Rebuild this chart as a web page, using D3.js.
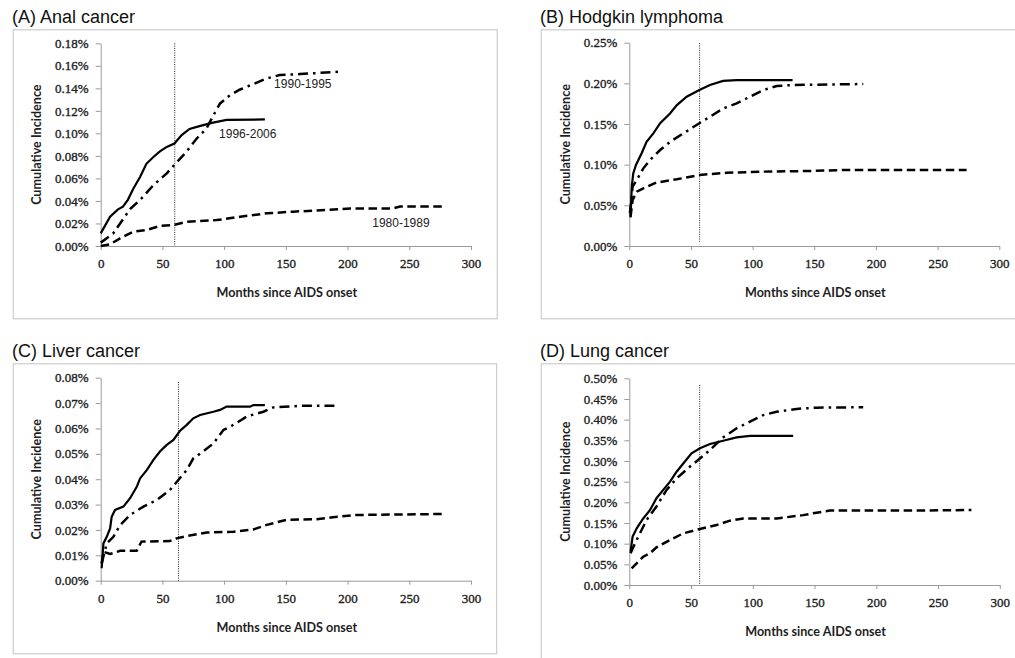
<!DOCTYPE html>
<html><head><meta charset="utf-8">
<script src="https://cdn.jsdelivr.net/npm/d3@7"></script>
<style>body{margin:0;background:#fff}svg{display:block}</style>
</head><body><svg id="c" width="1015" height="658"></svg>
<script>
// ---------- DATA ----------
const panelTitles = ["(A) Anal cancer", "(B) Hodgkin lymphoma", "(C) Liver cancer", "(D) Lung cancer"];
const xTicks = [0, 50, 100, 150, 200, 250, 300];
const yTicksA = [0, 0.02, 0.04, 0.06, 0.08, 0.10, 0.12, 0.14, 0.16, 0.18];
const yTicksB = [0, 0.05, 0.10, 0.15, 0.20, 0.25];
const yTicksC = [0, 0.01, 0.02, 0.03, 0.04, 0.05, 0.06, 0.07, 0.08];
const yTicksD = [0, 0.05, 0.10, 0.15, 0.20, 0.25, 0.30, 0.35, 0.40, 0.45, 0.50];
const seriesNames = ["1996-2006", "1990-1995", "1980-1989"];
const vlineMonths = [60, 57, 63, 57];
const xTitle = "Months since AIDS onset";
const yTitle = "Cumulative Incidence";

// Anal cancer (A)
const anal1996 = [[0,0.0112],[7.6,0.026],[14,0.0325],[18,0.035],[22,0.041],[26.5,0.051],[32,0.0615],[37,0.073],[42.7,0.079],[48,0.084],[53.5,0.088],[59.7,0.091],[65.6,0.0985],[72,0.104],[80,0.1065],[91,0.1095],[102,0.112],[133,0.1124]];
const anal1990 = [[0,0.003],[10,0.011],[15.7,0.020],[24,0.033],[32,0.041],[42.7,0.054],[53.5,0.0645],[59.7,0.072],[69.7,0.084],[77.8,0.0955],[85.8,0.1045],[91.3,0.116],[96.7,0.1266],[104.8,0.134],[112.9,0.139],[123.7,0.1438],[134.5,0.1488],[145,0.1518],[161.5,0.1527],[192.5,0.1547]];
const anal1980 = [[0,0],[7.6,0.0015],[15.7,0.0068],[26.5,0.0127],[37,0.0142],[48,0.0178],[59,0.0186],[69.7,0.0216],[94,0.023],[113,0.026],[134.5,0.029],[156,0.0305],[183,0.032],[202,0.0334],[237,0.0334],[242.5,0.035],[277.6,0.035]];
// Hodgkin lymphoma (B)
const hodg1996 = [[1,0.0352],[2,0.073],[3.2,0.0893],[5.4,0.0996],[10,0.114],[14,0.128],[19.5,0.1385],[25,0.151],[33,0.163],[38.4,0.173],[46.5,0.1836],[56.8,0.1918],[65.4,0.198],[76,0.203],[87,0.204],[132.4,0.204]];
const hodg1990 = [[0.5,0.040],[2.7,0.073],[6,0.081],[11.4,0.0955],[16.8,0.1057],[25,0.118],[33,0.128],[43.8,0.1385],[56.8,0.151],[65.4,0.159],[76,0.169],[87,0.1754],[97.8,0.1836],[108.6,0.1918],[119.5,0.1967],[133,0.198],[189.7,0.1992]];
const hodg1980 = [[1,0.036],[2.7,0.0566],[6,0.0668],[11.4,0.071],[22,0.078],[38.4,0.082],[56.8,0.0873],[79,0.090],[106,0.0914],[146.5,0.0922],[173.5,0.0934],[273.5,0.0934]];
// Liver cancer (C)
const liver1996 = [[0.8,0.0049],[2.2,0.0147],[4.9,0.0173],[7.6,0.0206],[8.9,0.0252],[11.6,0.0279],[18.4,0.0292],[23.8,0.0325],[29.2,0.037],[31.9,0.0403],[37.3,0.0436],[42.7,0.0476],[48,0.0509],[53.5,0.0535],[58.9,0.0555],[64.3,0.0591],[69.7,0.0614],[75,0.064],[80.5,0.0653],[91.3,0.0666],[96.7,0.0673],[102,0.0686],[121,0.0686],[123.7,0.0692],[133,0.0692]];
const liver1990 = [[0.8,0.0068],[4.9,0.0147],[10.3,0.0173],[15.7,0.0219],[23.8,0.0259],[34.6,0.0292],[45.4,0.0318],[56,0.0357],[62.9,0.0397],[69.7,0.0436],[75,0.0482],[83,0.0509],[91.3,0.0541],[99.4,0.0594],[107.5,0.0614],[118.3,0.0647],[131.8,0.0666],[139.9,0.0683],[161.5,0.0689],[192.5,0.0689]];
const liver1980 = [[0.8,0.0068],[2.2,0.0114],[7.6,0.0105],[15.7,0.0118],[29.2,0.0118],[33,0.0154],[56,0.0156],[61.5,0.0167],[69.7,0.0176],[86,0.019],[107.5,0.0193],[123.7,0.0202],[134.5,0.022],[145,0.0233],[150.5,0.024],[175,0.0242],[188,0.025],[207,0.0259],[277.6,0.0263]];
// Lung cancer (D)
const lung1996 = [[1,0.0806],[2.7,0.117],[6,0.137],[11.3,0.161],[16.7,0.181],[22,0.21],[27.5,0.23],[33,0.25],[38.3,0.274],[43.7,0.294],[50.4,0.3185],[57.2,0.3306],[65.3,0.341],[76,0.349],[86.9,0.357],[97.7,0.3605],[132.7,0.3605]];
const lung1990 = [[1,0.0766],[4.6,0.1008],[8.6,0.125],[14,0.157],[22,0.19],[30.2,0.23],[38.3,0.258],[49,0.286],[57.2,0.306],[65.3,0.3266],[76,0.357],[86.9,0.379],[97.7,0.395],[108.5,0.411],[119.2,0.419],[135.4,0.426],[151.6,0.429],[189.4,0.430]];
const lung1980 = [[1.9,0.040],[11.3,0.0685],[16.7,0.0766],[22,0.091],[33,0.109],[43.7,0.125],[57.2,0.1355],[70.7,0.145],[81.5,0.1556],[92.3,0.161],[119.2,0.161],[140.8,0.169],[151.6,0.175],[162.4,0.180],[227,0.180],[277,0.1815]];

// Series-label anchors in panel A (month, value)
const labelAnchorsA = [[95.9, 0.0986], [140.5, 0.143], [220, 0.0195]];

// ---------- LAYOUT ----------
const panels = [
  {frame:[12.7,29.3,484,289], plot:[100.7,471,246,43.3], yTicks:yTicksA, series:[anal1996,anal1990,anal1980]},
  {frame:[540.7,29.3,480,289], plot:[629.3,999.3,246,42.7], yTicks:yTicksB, series:[hodg1996,hodg1990,hodg1980]},
  {frame:[12.7,363.3,483.5,290], plot:[100.7,471,580.7,377.7], yTicks:yTicksC, series:[liver1996,liver1990,liver1980]},
  {frame:[540.7,363.3,480,300], plot:[629.3,999.8,585,378.3], yTicks:yTicksD, series:[lung1996,lung1990,lung1980]}
];
const vlineTops = [43.3, 43, 382, 385];
const vlineBottoms = [246, 241.7, 580.7, 585];
const dashStyles = [null, "10,5,2.5,5", "8.5,4.5"];

const svg = d3.select("#c");
const axisColor = "#9a9a9a";
const fmt = d => d3.format(".2f")(d) + "%";

panels.forEach((p, i) => {
  const g = svg.append("g");
  const [fx, fy, fw, fh] = p.frame;
  g.append("rect").attr("x", fx + 0.5).attr("y", fy + 0.5).attr("width", fw).attr("height", fh)
    .attr("fill", "none").attr("stroke", "#c4c4c4").attr("stroke-width", 1);

  // title
  g.append("text").attr("x", i % 2 === 0 ? 12 : 540).attr("y", fy - 6.5)
    .attr("font-family", "Liberation Sans, Arial, sans-serif").attr("font-size", 18)
    .attr("fill", "#111").text(panelTitles[i]);

  const [x0, x1, y0, y1] = p.plot;
  const x = d3.scaleLinear().domain([0, 300]).range([x0, x1]);
  const y = d3.scaleLinear().domain([0, d3.max(p.yTicks)]).range([y0, y1]);

  const xa = g.append("g").attr("transform", `translate(0,${y0})`)
    .call(d3.axisBottom(x).tickValues(xTicks).tickSize(4).tickSizeOuter(0).tickPadding(9).tickFormat(d3.format("d")));
  const ya = g.append("g").attr("transform", `translate(${x0},0)`)
    .call(d3.axisLeft(y).tickValues(p.yTicks).tickSize(5).tickSizeOuter(0).tickPadding(7).tickFormat(fmt));
  [xa, ya].forEach(a => {
    a.select(".domain").attr("stroke", axisColor);
    a.selectAll(".tick line").attr("stroke", axisColor);
    a.selectAll(".tick text").attr("font-family", "Liberation Serif, Times New Roman, serif")
      .attr("font-size", 13).attr("fill", "#1e1e1e")
      .attr("stroke", "#1e1e1e").attr("stroke-width", 0.35);
  });

  // axis titles
  g.append("text").attr("x", (x0 + x1) / 2 + 1).attr("y", y0 + 51)
    .attr("text-anchor", "middle").attr("font-family", "Lato, sans-serif").attr("font-weight", "bold")
    .attr("font-size", 12.6).attr("fill", "#1e1e1e").text(xTitle);
  g.append("text").attr("transform", `translate(${x0 - 62.5},${(y0 + y1) / 2}) rotate(-90)`)
    .attr("text-anchor", "middle").attr("dominant-baseline", "middle").attr("font-family", "Lato, sans-serif").attr("font-weight", "bold")
    .attr("font-size", 12.6).attr("fill", "#1e1e1e").text(yTitle);

  // vertical dotted reference line
  g.append("line").attr("x1", x(vlineMonths[i])).attr("x2", x(vlineMonths[i]))
    .attr("y1", vlineTops[i]).attr("y2", vlineBottoms[i])
    .attr("stroke", "#222").attr("stroke-width", 1).attr("stroke-dasharray", "1,1.3");

  const line = d3.line().x(d => x(d[0])).y(d => y(d[1]));
  p.series.forEach((s, k) => {
    g.append("path").datum(s).attr("d", line).attr("fill", "none")
      .attr("stroke", "#000").attr("stroke-width", k === 0 ? 2.2 : 2.5)
      .attr("stroke-dasharray", dashStyles[k]);
  });

  if (i === 0) {
    labelAnchorsA.forEach((a, k) => {
      g.append("text").attr("x", x(a[0])).attr("y", y(a[1])).attr("dominant-baseline", "middle")
        .attr("font-family", "Liberation Sans, Arial, sans-serif").attr("font-size", 12)
        .attr("fill", "#222").text(seriesNames[k]);
    });
  }
});
</script></body></html>
